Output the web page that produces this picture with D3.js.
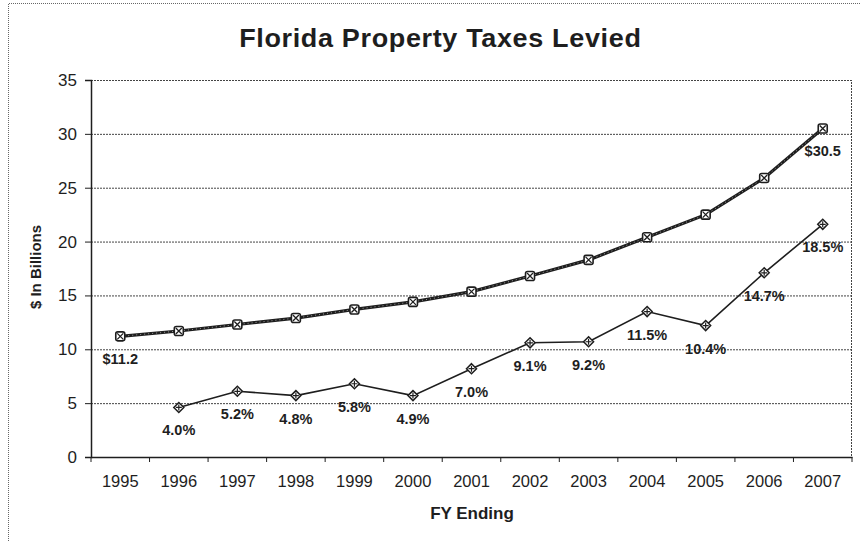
<!DOCTYPE html>
<html><head><meta charset="utf-8">
<script src="https://cdn.jsdelivr.net/npm/d3@7"></script>
<style>
body{margin:0;background:#fff;}
svg{display:block;font-family:"Liberation Sans",Arial,sans-serif;}
</style></head>
<body><svg id="c" width="860" height="541"></svg>
<script>
const years = ["1995","1996","1997","1998","1999","2000","2001","2002","2003","2004","2005","2006","2007"];
const taxesLevied = [11.2,11.7,12.3,12.9,13.7,14.4,15.35,16.8,18.3,20.4,22.5,25.9,30.5];
const taxLabels = ["$11.2","","","","","","","","","","","","$30.5"];
const growth = [null,4.6,6.1,5.7,6.8,5.7,8.2,10.6,10.7,13.5,12.2,17.1,21.6];
const growthLabels = ["","4.0%","5.2%","4.8%","5.8%","4.9%","7.0%","9.1%","9.2%","11.5%","10.4%","14.7%","18.5%"];
const yTicks = [0,5,10,15,20,25,30,35];

const svg = d3.select("#c");
const L = 91, R = 852, T = 80, B = 457;
const x = d3.scaleBand().domain(years).range([L, R]).padding(0);
const y = d3.scaleLinear().domain([0, 35]).range([B, T]);
const cx = d => x(d) + x.bandwidth() / 2;
const ink = "#1e1e1e";

// outer chart border (left/top)
svg.append("path").attr("d", `M8.5,541 V3.5 H860`).attr("fill","none")
  .attr("stroke","#666").attr("stroke-width",1).attr("stroke-dasharray","1,1");

// title
svg.append("text").attr("transform", "translate(440,47) scale(1.08,1)").attr("text-anchor","middle")
  .attr("font-size", 25).attr("font-weight","bold").attr("fill", ink)
  .attr("textLength", 372).attr("lengthAdjust","spacing")
  .text("Florida Property Taxes Levied");

// gridlines
const grid = svg.append("g").attr("transform", `translate(${L},0)`)
  .call(d3.axisLeft(y).tickValues(yTicks).tickSize(-(R - L)).tickFormat(""));
grid.select(".domain").remove();
grid.selectAll("line").attr("stroke","#444").attr("stroke-width",1).attr("stroke-dasharray","2,1");

// plot border top/right
svg.append("path").attr("d", `M${L},${T+0.5} H${R-0.5} V${B}`).attr("fill","none")
  .attr("stroke","#444").attr("stroke-dasharray","2,1");

// y axis
const ya = svg.append("g").attr("transform", `translate(${L},0)`)
  .call(d3.axisLeft(y).tickValues(yTicks).tickSize(6).tickPadding(8));
ya.select(".domain").attr("stroke", ink).attr("stroke-width",1.5);
ya.selectAll("line").attr("stroke", ink);
ya.selectAll("text").attr("font-size", 17).attr("fill", ink)
  .attr("font-family","'Liberation Sans',Arial,sans-serif");

// x axis
const xa = svg.append("g").attr("transform", `translate(0,${B})`)
  .call(d3.axisBottom(x).tickSize(0).tickPadding(18));
xa.select(".domain").attr("stroke", ink).attr("stroke-width",1.5);
xa.selectAll("text").attr("font-size", 16.5).attr("fill", ink)
  .attr("font-family","'Liberation Sans',Arial,sans-serif");
const bounds = years.map(d => x(d)).concat([R]);
svg.append("g").selectAll("line").data(bounds).join("line")
  .attr("x1", d => d).attr("x2", d => d).attr("y1", B).attr("y2", B + 5)
  .attr("stroke", ink);

// axis titles
svg.append("text").attr("transform", "translate(41,267) rotate(-90)")
  .attr("text-anchor","middle").attr("font-size", 15).attr("font-weight","bold")
  .attr("fill", ink).text("$ In Billions");
svg.append("text").attr("x", 472).attr("y", 519).attr("text-anchor","middle")
  .attr("font-size", 17).attr("font-weight","bold").attr("fill", ink).text("FY Ending");

// series 1: taxes levied
const topPts = years.map((d,i) => ({year:d, v:taxesLevied[i], label:taxLabels[i]}));
const line = d3.line().x(d => cx(d.year)).y(d => y(d.v));
svg.append("path").datum(topPts).attr("d", line).attr("fill","none")
  .attr("stroke", ink).attr("stroke-width", 3.2);
svg.append("path").datum(topPts).attr("d", line).attr("fill","none")
  .attr("stroke", "#bbb").attr("stroke-width", 0.8).attr("stroke-dasharray","1,3");
const tm = svg.append("g").selectAll("g").data(topPts).join("g")
  .attr("transform", d => `translate(${cx(d.year)},${y(d.v)})`);
tm.append("rect").attr("x",-4.5).attr("y",-4.5).attr("width",9).attr("height",9)
  .attr("rx",2).attr("fill","#fff").attr("stroke",ink).attr("stroke-width",1.6);
tm.append("path").attr("d","M-3,-3L3,3M-3,3L3,-3").attr("stroke",ink).attr("stroke-width",1.3);

// series 2: growth
const botPts = years.map((d,i) => ({year:d, v:growth[i], label:growthLabels[i]})).filter(d => d.v != null);
svg.append("path").datum(botPts).attr("d", line).attr("fill","none")
  .attr("stroke", ink).attr("stroke-width", 1.6);
const bm = svg.append("g").selectAll("g").data(botPts).join("g")
  .attr("transform", d => `translate(${cx(d.year)},${y(d.v)})`);
bm.append("path").attr("d","M0,-5L5,0L0,5L-5,0Z").attr("fill","#fff").attr("stroke",ink).attr("stroke-width",1.5);
bm.append("path").attr("d","M0,-3V3M-3,0H3").attr("stroke",ink).attr("stroke-width",1.2);

// data labels
const allLabels = topPts.concat(botPts).filter(d => d.label);
svg.append("g").selectAll("text").data(allLabels).join("text")
  .attr("x", d => cx(d.year)).attr("y", d => y(d.v) + 28)
  .attr("text-anchor","middle").attr("font-size", 14.5).attr("font-weight","bold")
  .attr("fill", ink).text(d => d.label);
</script></body></html>
